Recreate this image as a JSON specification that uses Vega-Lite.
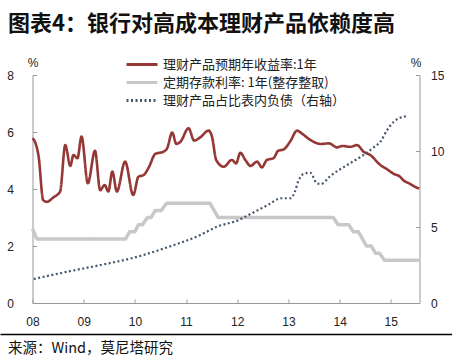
{
  "$schema": "https://vega.github.io/schema/vega-lite/v6.json",
  "background": "white",
  "padding": {"left": 0, "top": 13, "right": 0, "bottom": 0},
  "title": {"text": "图表4：银行对高成本理财产品依赖度高", "anchor": "start", "font": "Noto Sans CJK SC", "fontSize": 22, "fontWeight": "bold", "color": "#111", "dx": 8, "offset": 20},
  "spacing": 31,
  "center": true,
  "bounds": "flush",
  "config": {"view": {"stroke": null}, "axis": {"grid": false, "domainColor": "#999", "tickColor": "#999", "labelColor": "#222", "labelFont": "Liberation Sans", "labelFontSize": 12, "titleFont": "Liberation Sans", "titleFontSize": 12, "titleFontWeight": "normal", "titleColor": "#222"}},
  "datasets": {
    "yield": [
      {"date": "2008-01-01", "v": 5.78}, {"date": "2008-01-23", "v": 5.6}, {"date": "2008-02-14", "v": 5.13}, {"date": "2008-03-17", "v": 3.61}, {"date": "2008-04-12", "v": 3.55}, {"date": "2008-05-30", "v": 3.71}, {"date": "2008-07-16", "v": 3.91}, {"date": "2008-08-22", "v": 5.54}, {"date": "2008-09-27", "v": 4.81}, {"date": "2008-10-19", "v": 5.19}, {"date": "2008-11-17", "v": 5.08}, {"date": "2008-12-16", "v": 5.84},
      {"date": "2009-01-30", "v": 4.2}, {"date": "2009-03-22", "v": 5.34}, {"date": "2009-04-28", "v": 3.96}, {"date": "2009-05-30", "v": 4.14}, {"date": "2009-06-25", "v": 3.91}, {"date": "2009-07-24", "v": 4.61}, {"date": "2009-08-25", "v": 3.91}, {"date": "2009-10-23", "v": 4.96}, {"date": "2009-12-20", "v": 3.79},
      {"date": "2010-01-26", "v": 4.43}, {"date": "2010-03-04", "v": 4.49}, {"date": "2010-04-12", "v": 4.78}, {"date": "2010-05-26", "v": 5.23}, {"date": "2010-07-24", "v": 5.31}, {"date": "2010-08-19", "v": 5.43}, {"date": "2010-09-24", "v": 5.98}, {"date": "2010-10-24", "v": 5.58}, {"date": "2010-11-22", "v": 5.66},
      {"date": "2011-01-19", "v": 6.13}, {"date": "2011-02-28", "v": 5.7}, {"date": "2011-04-12", "v": 5.81}, {"date": "2011-06-10", "v": 6.05}, {"date": "2011-07-05", "v": 5.84}, {"date": "2011-08-04", "v": 5.02}, {"date": "2011-09-27", "v": 4.78}, {"date": "2011-11-24", "v": 5.02}, {"date": "2011-12-24", "v": 4.9},
      {"date": "2012-01-23", "v": 5.27}, {"date": "2012-02-28", "v": 5.02}, {"date": "2012-04-05", "v": 4.81}, {"date": "2012-05-22", "v": 4.96}, {"date": "2012-06-25", "v": 4.76}, {"date": "2012-07-31", "v": 5.02}, {"date": "2012-09-16", "v": 5.08}, {"date": "2012-10-19", "v": 5.34}, {"date": "2012-11-28", "v": 5.39},
      {"date": "2013-01-12", "v": 5.66}, {"date": "2013-03-04", "v": 6.05}, {"date": "2013-04-05", "v": 5.95}, {"date": "2013-06-07", "v": 5.72}, {"date": "2013-08-19", "v": 5.58}, {"date": "2013-10-16", "v": 5.6}, {"date": "2013-12-14", "v": 5.46},
      {"date": "2014-01-19", "v": 5.51}, {"date": "2014-03-18", "v": 5.48}, {"date": "2014-05-05", "v": 5.54}, {"date": "2014-06-21", "v": 5.31}, {"date": "2014-08-08", "v": 5.19}, {"date": "2014-10-19", "v": 4.84}, {"date": "2014-12-06", "v": 4.69},
      {"date": "2015-01-23", "v": 4.53}, {"date": "2015-02-28", "v": 4.46}, {"date": "2015-04-05", "v": 4.29}, {"date": "2015-05-19", "v": 4.18}, {"date": "2015-06-21", "v": 4.08}, {"date": "2015-07-23", "v": 4.02}
    ],
    "deposit": [
      {"date": "2008-01-01", "v": 2.6}, {"date": "2008-02-01", "v": 2.25}, {"date": "2009-10-27", "v": 2.25}, {"date": "2009-11-24", "v": 2.5}, {"date": "2010-01-01", "v": 2.5}, {"date": "2010-01-26", "v": 2.75}, {"date": "2010-02-24", "v": 2.75}, {"date": "2010-04-01", "v": 3.0}, {"date": "2010-04-27", "v": 3.0}, {"date": "2010-05-26", "v": 3.25}, {"date": "2010-07-08", "v": 3.25}, {"date": "2010-08-15", "v": 3.5}, {"date": "2011-06-21", "v": 3.5}, {"date": "2011-07-20", "v": 3.25}, {"date": "2011-08-18", "v": 3.0}, {"date": "2013-11-17", "v": 3.0}, {"date": "2013-12-20", "v": 2.75}, {"date": "2014-03-07", "v": 2.75}, {"date": "2014-04-08", "v": 2.5}, {"date": "2014-05-15", "v": 2.5}, {"date": "2014-06-13", "v": 2.25}, {"date": "2014-07-12", "v": 2.0}, {"date": "2014-08-15", "v": 2.0}, {"date": "2014-09-13", "v": 1.75}, {"date": "2014-10-12", "v": 1.75}, {"date": "2014-11-17", "v": 1.5}, {"date": "2015-07-25", "v": 1.5}
    ],
    "share": [
      {"date": "2008-01-10", "v": 1.58}, {"date": "2008-09-06", "v": 2.06}, {"date": "2009-05-01", "v": 2.5}, {"date": "2009-12-24", "v": 2.98}, {"date": "2010-08-19", "v": 3.66}, {"date": "2011-04-12", "v": 4.47}, {"date": "2011-08-10", "v": 5.02}, {"date": "2012-01-01", "v": 5.42}, {"date": "2012-04-08", "v": 5.87}, {"date": "2012-08-07", "v": 6.45}, {"date": "2012-11-10", "v": 6.89}, {"date": "2013-01-18", "v": 6.89}, {"date": "2013-02-14", "v": 7.3}, {"date": "2013-03-14", "v": 8.05}, {"date": "2013-04-20", "v": 8.5}, {"date": "2013-06-05", "v": 8.57}, {"date": "2013-07-22", "v": 7.88}, {"date": "2013-08-20", "v": 7.83}, {"date": "2013-10-27", "v": 8.36}, {"date": "2014-02-24", "v": 9.08}, {"date": "2014-06-21", "v": 9.74}, {"date": "2014-09-01", "v": 10.24}, {"date": "2014-10-19", "v": 10.61}, {"date": "2014-12-06", "v": 11.38}, {"date": "2015-01-23", "v": 11.93}, {"date": "2015-02-28", "v": 12.15}, {"date": "2015-04-27", "v": 12.3}
    ]
  },
  "vconcat": [
    {
      "width": 387,
      "height": 228,
      "encoding": {
        "x": {"field": "date", "type": "temporal", "scale": {"domain": ["2008-01-01", "2015-07-25"], "nice": false}, "axis": {"title": null, "format": "%y", "tickCount": {"interval": "year", "step": 1}, "tickSize": -4, "labelPadding": 17, "labelAlign": "center", "labelFlush": false}},
        "color": {"field": "series", "type": "nominal", "scale": {"domain": ["理财产品预期年收益率:1年", "定期存款利率: 1年(整存整取)", "理财产品占比表内负债（右轴）"], "range": ["#953735", "#c8c8c8", "#44566e"]}, "legend": {"title": null, "orient": "none", "legendX": 125, "legendY": -18.5, "symbolType": "stroke", "symbolSize": 961, "symbolStrokeWidth": 3, "labelFont": "Noto Sans CJK SC", "labelFontSize": 13, "labelColor": "#222", "labelLimit": 400, "clipHeight": 16, "rowPadding": 2, "labelOffset": 4}},
        "strokeDash": {"field": "series", "type": "nominal", "scale": {"domain": ["理财产品预期年收益率:1年", "定期存款利率: 1年(整存整取)", "理财产品占比表内负债（右轴）"], "range": [[1, 0], [1, 0], [2, 2.5]]}, "legend": {"title": null, "orient": "none", "legendX": 125, "legendY": -18.5}}
      },
      "layer": [
        {
          "layer": [
            {
              "data": {"name": "deposit"},
              "transform": [{"calculate": "'定期存款利率: 1年(整存整取)'", "as": "series"}],
              "mark": {"type": "line", "strokeWidth": 3.5, "interpolate": "linear", "strokeJoin": "round"},
              "encoding": {"y": {"field": "v", "type": "quantitative", "scale": {"domain": [0, 8]}, "axis": {"title": "%", "titleAngle": 0, "titleX": 0, "titleY": -13, "titleAlign": "center", "titleBaseline": "middle", "values": [0, 2, 4, 6, 8], "tickSize": -4, "labelPadding": 23}}}
            },
            {
              "data": {"name": "yield"},
              "transform": [{"calculate": "'理财产品预期年收益率:1年'", "as": "series"}],
              "mark": {"type": "line", "strokeWidth": 2.6, "interpolate": "monotone"},
              "encoding": {"y": {"field": "v", "type": "quantitative", "scale": {"domain": [0, 8]}}}
            }
          ]
        },
        {
          "data": {"name": "share"},
          "transform": [{"calculate": "'理财产品占比表内负债（右轴）'", "as": "series"}],
          "mark": {"type": "line", "strokeWidth": 2.2, "interpolate": "monotone"},
          "encoding": {"y": {"field": "v", "type": "quantitative", "scale": {"domain": [0, 15]}, "axis": {"orient": "right", "title": "%", "titleAngle": 0, "titleX": -4, "titleY": -13, "titleAlign": "center", "titleBaseline": "middle", "values": [0, 5, 10, 15], "tickSize": -4, "labelPadding": 15}}}
        }
      ],
      "resolve": {"scale": {"y": "independent"}}
    },
    {
      "width": 452,
      "height": 28,
      "data": {"values": [{"p": 0, "s": "来源：Wind，莫尼塔研究"}]},
      "mark": {"type": "text", "align": "left", "baseline": "middle", "dx": 8, "dy": 1, "font": "Noto Sans CJK SC", "fontSize": 14.5, "color": "#111"},
      "encoding": {
        "x": {"field": "p", "type": "quantitative", "scale": {"domain": [0, 1]}, "axis": {"orient": "top", "title": null, "labels": false, "ticks": false, "domainColor": "#000", "domainWidth": 1.5}},
        "text": {"field": "s"}
      }
    }
  ]
}
